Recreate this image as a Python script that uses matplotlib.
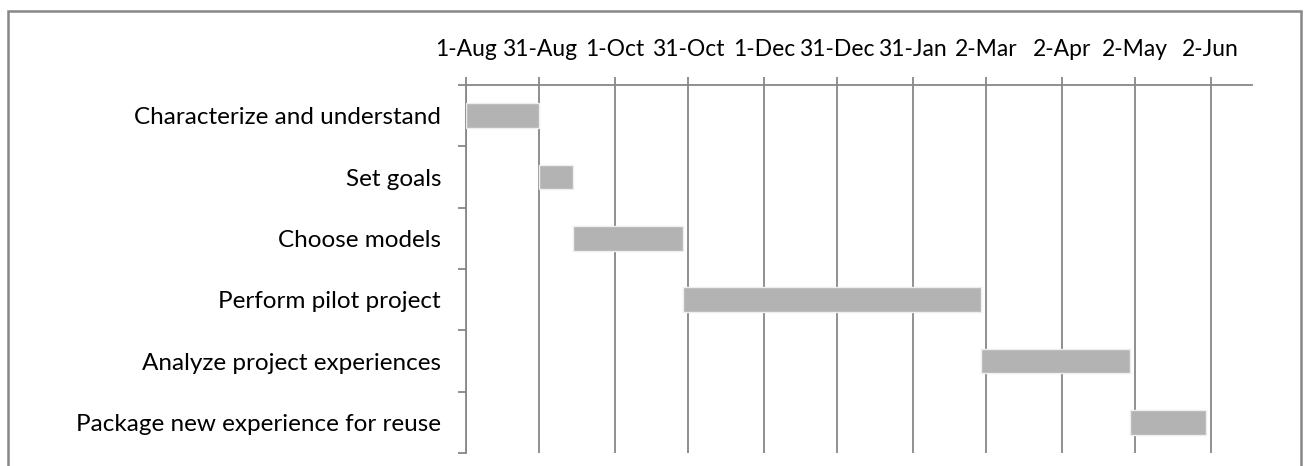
import matplotlib
matplotlib.use("Agg")
import matplotlib.pyplot as plt
import matplotlib.patches as mpatches
import pandas as pd

tasks = ["Characterize and understand", "Set goals", "Choose models",
         "Perform pilot project", "Analyze project experiences",
         "Package new experience for reuse"]
start_dates = ["2010-08-01", "2010-08-31", "2010-09-14", "2010-10-29",
               "2011-02-28", "2011-04-30"]
durations = [30, 14, 45, 122, 61, 31]
tick_dates = ["2010-08-01", "2010-08-31", "2010-10-01", "2010-10-31",
              "2010-12-01", "2010-12-31", "2011-01-31", "2011-03-02",
              "2011-04-02", "2011-05-02", "2011-06-02"]
tick_labels = ["1-Aug", "31-Aug", "1-Oct", "31-Oct", "1-Dec", "31-Dec",
               "31-Jan", "2-Mar", "2-Apr", "2-May", "2-Jun"]
axis_start = "2010-08-01"
axis_span_days = 322

plt.rcParams['font.family'] = ['Lato', 'DejaVu Sans']
FS_Y = 17.5
FS_X = 16.5

W, H = 1309, 466
fig = plt.figure(figsize=(W / 100, H / 100), dpi=100)
ax = fig.add_axes([466 / W, 1 - 453 / H, (1252 - 466) / W, (453 - 85) / H])

origin = pd.Timestamp(axis_start)
starts = [(pd.Timestamp(d) - origin).days for d in start_dates]
ticks = [(pd.Timestamp(d) - origin).days for d in tick_dates]
ypos = [i + 0.5 for i in range(len(tasks))]

grey = "#878787"
ax.barh(ypos, durations, left=starts, height=0.4, color="#b3b3b3",
        edgecolor="#eeeeee", linewidth=1.0, zorder=3)

ax.set_xlim(0, axis_span_days)
ax.set_ylim(len(tasks), 0)
ax.set_xticks(ticks)
ax.set_xticklabels(tick_labels)
ax.xaxis.tick_top()
ax.tick_params(axis='x', direction='out', length=6, width=1.3, color=grey,
               pad=12, labelsize=FS_X)
ax.grid(axis='x', color=grey, linewidth=1.3, zorder=1)
ax.set_axisbelow(True)

ax.set_yticks(ypos)
ax.set_yticklabels(tasks)
ax.set_yticks(range(len(tasks) + 1), minor=True)
ax.tick_params(axis='y', which='major', length=0, pad=18, labelsize=FS_Y)
ax.tick_params(axis='y', which='minor', direction='out', length=6,
               width=1.3, color=grey)

for s in ['right', 'bottom']:
    ax.spines[s].set_visible(False)
for s in ['top', 'left']:
    ax.spines[s].set_color(grey)
    ax.spines[s].set_linewidth(1.3)

border = mpatches.Rectangle((8 / W, -0.1), (1301 - 8) / W, 1.1 - 11 / H,
                            transform=fig.transFigure, fill=False,
                            edgecolor=grey, linewidth=1.8, clip_on=False)
fig.patches.append(border)

fig.savefig("out.png", dpi=100)
